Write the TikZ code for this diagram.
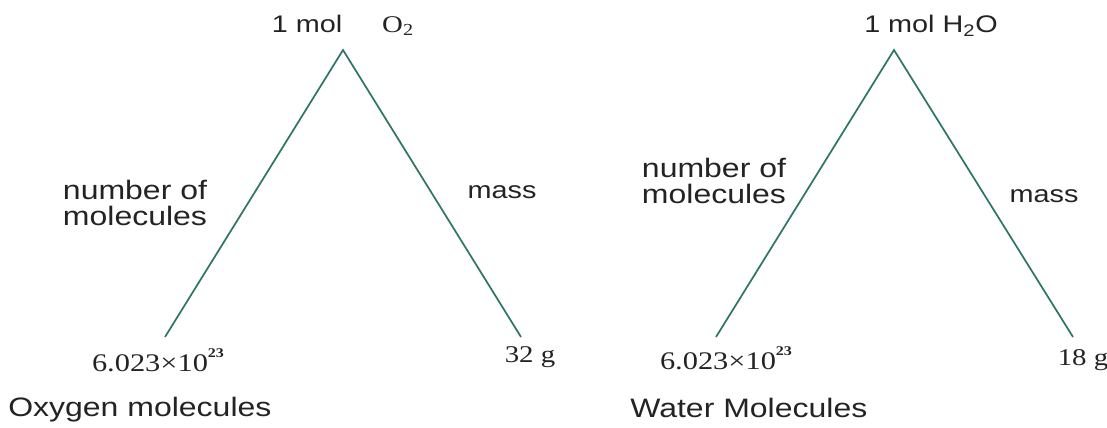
\documentclass[tikz,border=0pt]{standalone}
\usepackage{fontspec}
\setmainfont{Liberation Serif}[FakeStretch=1.2]
\setsansfont{Liberation Sans}[FakeStretch=1.2]
\usepackage{tikz}

\definecolor{legcolor}{RGB}{48,118,102}
\definecolor{inkcolor}{RGB}{35,35,35}
\newcommand{\powsup}[1]{\raisebox{0.55em}{\fontsize{10}{10}\selectfont\bfseries #1}}

\begin{document}
\begin{tikzpicture}[x=0.75pt,y=0.75pt,yscale=-1,xscale=1,
    leg/.style={color=legcolor, line width=1.3pt},
    sanstext/.style={inner sep=0pt, text=inkcolor, font=\sffamily\fontsize{20}{19.5}\selectfont},
    toptext/.style={inner sep=0pt, text=inkcolor, font=\sffamily\fontsize{18}{20}\selectfont},
    masstext/.style={inner sep=0pt, text=inkcolor, font=\sffamily\fontsize{18}{20}\selectfont},
    numtext/.style={inner sep=0pt, text=inkcolor, font=\rmfamily\fontsize{18}{20}\selectfont}]
    \useasboundingbox (0,0) rectangle (1107,428);

    %Shape: Triangle legs, oxygen
    \coordinate (topO) at (343,50);
    \coordinate (leftO) at (165,337);
    \coordinate (rightO) at (521,337);
    \draw [leg] (leftO) -- (topO) -- (rightO);
    %Shape: Triangle legs, water
    \coordinate (topW) at (894,50);
    \coordinate (leftW) at (716,337);
    \coordinate (rightW) at (1073,337);
    \draw [leg] (leftW) -- (topW) -- (rightW);

    % Text Node
    \node (molO) [toptext] at (307,24) {1 mol};
    % Text Node
    \node (formO) [numtext] at (398,26) {O\textsubscript{2}};
    % Text Node
    \node (molW) [toptext] at (931,26) {1 mol H\textsubscript{2}O};
    % Text Node
    \node (countO) [sanstext, align=left] at (135,203) {number of\\molecules};
    % Text Node
    \node (massO) [masstext] at (502,192) {mass};
    % Text Node
    \node (countW) [sanstext, align=left] at (714,181) {number of\\molecules};
    % Text Node
    \node (massW) [masstext] at (1044,196) {mass};
    % Text Node
    \node (avoO) [numtext, font=\rmfamily\fontsize{19}{20}\selectfont] at (158,360) {6.023×10\powsup{23}};
    % Text Node
    \node (gramO) [numtext] at (530,357) {32 g};
    % Text Node
    \node (avoW) [numtext, font=\rmfamily\fontsize{19}{20}\selectfont] at (726,358) {6.023×10\powsup{23}};
    % Text Node
    \node (gramW) [numtext] at (1083,360) {18 g};
    % Text Node
    \node (nameO) [sanstext, anchor=west] at (8,410) {Oxygen molecules};
    % Text Node
    \node (nameW) [sanstext, anchor=west] at (630,408) {Water Molecules};

\end{tikzpicture}
\end{document}
